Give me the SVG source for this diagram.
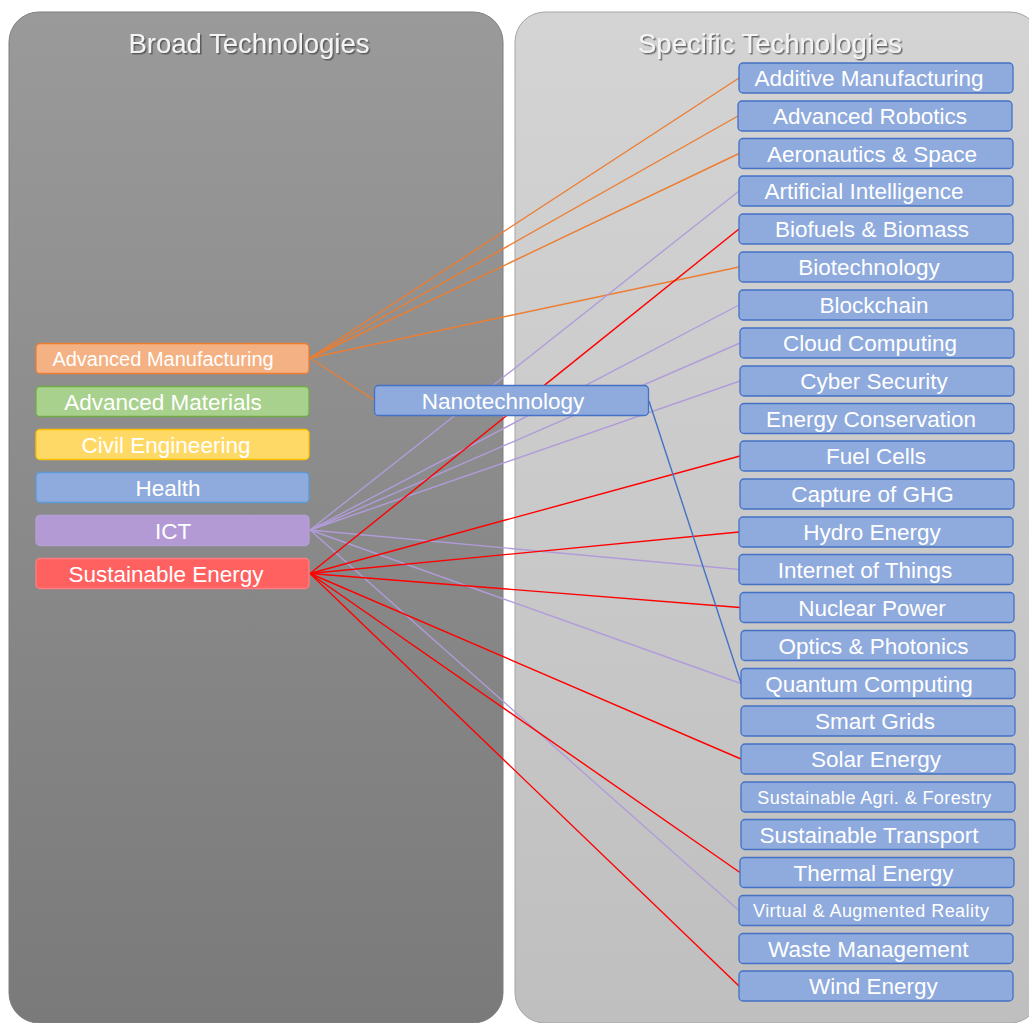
<svg xmlns="http://www.w3.org/2000/svg" width="1029" height="1023" viewBox="0 0 1029 1023">
<defs>
<linearGradient id="gL" x1="0" y1="0" x2="0" y2="1"><stop offset="0" stop-color="#9a9a9a"/><stop offset="1" stop-color="#7a7a7a"/></linearGradient>
<linearGradient id="gR" x1="0" y1="0" x2="0" y2="1"><stop offset="0" stop-color="#d4d4d4"/><stop offset="1" stop-color="#bfbfbf"/></linearGradient>
<filter id="sh" x="-10%" y="-30%" width="120%" height="160%"><feDropShadow dx="1.5" dy="1.5" stdDeviation="0.6" flood-color="#404040" flood-opacity="0.7"/></filter>
<style>
text{font-family:"Liberation Sans",Arial,sans-serif;fill:#ffffff;text-anchor:middle}
.title{font-size:27.5px;fill:#f4f4f4}
.t{font-size:22.5px}
.s{font-size:18px}
.spec rect{fill:#8faadc;stroke:#4472c4;stroke-width:1.3}
.broad rect{stroke-width:1.3}
#conn line{stroke-width:1.4;fill:none}
.o{stroke:#ed7d31}
.p{stroke:#b19cd9}
.r{stroke:#ff0000}
.b{stroke:#4472c4}
</style>
</defs>
<rect width="1029" height="1023" fill="#ffffff"/>
<g id="panel-broad">
<rect x="9" y="12" width="494" height="1011" rx="30" fill="url(#gL)" stroke="#7f7f7f" stroke-width="1"/>
<text class="title" x="249" y="53" filter="url(#sh)">Broad Technologies</text>
</g>
<g id="panel-specific">
<rect x="515" y="12" width="525" height="1011" rx="30" fill="url(#gR)" stroke="#a6a6a6" stroke-width="1"/>
<text class="title" x="770" y="53" filter="url(#sh)">Specific Technologies</text>
</g>
<g id="conn">
<line class="o" x1="310" y1="358" x2="739" y2="78"/>
<line class="o" x1="310" y1="358" x2="738" y2="116"/>
<line class="o" x1="310" y1="358" x2="739" y2="153.5"/>
<line class="o" x1="310" y1="358" x2="739" y2="267"/>
<line class="o" x1="310" y1="358" x2="374" y2="400"/>
<line class="p" x1="310" y1="530" x2="739" y2="191"/>
<line class="p" x1="310" y1="530" x2="739" y2="305"/>
<line class="p" x1="310" y1="530" x2="740" y2="343"/>
<line class="p" x1="310" y1="530" x2="740" y2="381"/>
<line class="p" x1="310" y1="530" x2="739" y2="569.5"/>
<line class="p" x1="310" y1="530" x2="741" y2="683.5"/>
<line class="p" x1="310" y1="530" x2="739" y2="910.5"/>
<line class="r" x1="310" y1="573.5" x2="739" y2="229"/>
<line class="r" x1="310" y1="573.5" x2="740" y2="456"/>
<line class="r" x1="310" y1="573.5" x2="739" y2="532"/>
<line class="r" x1="310" y1="573.5" x2="740" y2="607.5"/>
<line class="r" x1="310" y1="573.5" x2="741" y2="759"/>
<line class="r" x1="310" y1="573.5" x2="740" y2="872.5"/>
<line class="r" x1="310" y1="573.5" x2="739" y2="986"/>
<line class="b" x1="649" y1="401" x2="741" y2="683"/>
</g>
<g class="broad">
<g id="n-adv-manufacturing"><rect x="36" y="343.5" width="273" height="30" rx="4" fill="#f4b183" stroke="#ed7d31"/><text x="163" y="365.5" style="font-size:20px">Advanced Manufacturing</text></g>
<g id="n-adv-materials"><rect x="36" y="386.5" width="273" height="30" rx="4" fill="#a9d18e" stroke="#70ad47"/><text class="t" x="163" y="409.5">Advanced Materials</text></g>
<g id="n-civil"><rect x="36" y="429.5" width="273" height="30" rx="4" fill="#ffd966" stroke="#ffc000"/><text class="t" x="166" y="452.5">Civil Engineering</text></g>
<g id="n-health"><rect x="36" y="472.5" width="273" height="30" rx="4" fill="#8faadc" stroke="#5b9bd5"/><text class="t" x="168" y="495.5">Health</text></g>
<g id="n-ict"><rect x="36" y="515.5" width="273" height="30" rx="4" fill="#b39ad4" stroke="#b4a0d4"/><text class="t" x="173" y="538.5">ICT</text></g>
<g id="n-sust-energy"><rect x="36" y="558.5" width="273" height="30" rx="4" fill="#ff6161" stroke="#ff7c80"/><text class="t" x="166" y="581.5">Sustainable Energy</text></g>
</g>
<g class="spec">
<g id="n-nanotechnology"><rect x="374.5" y="385.5" width="274" height="30" rx="4"/><text class="t" x="503" y="408.5">Nanotechnology</text></g>
<g id="n-additive"><rect x="739" y="63" width="274" height="30" rx="4"/><text class="t" x="869" y="86">Additive Manufacturing</text></g>
<g id="n-robotics"><rect x="738" y="101" width="274" height="30" rx="4"/><text class="t" x="870" y="124">Advanced Robotics</text></g>
<g id="n-aero"><rect x="739" y="138.5" width="274" height="30" rx="4"/><text class="t" x="872" y="161.5">Aeronautics &amp; Space</text></g>
<g id="n-ai"><rect x="739" y="176" width="274" height="30" rx="4"/><text class="t" x="864" y="199">Artificial Intelligence</text></g>
<g id="n-biofuels"><rect x="739" y="214" width="274" height="30" rx="4"/><text class="t" x="872" y="237">Biofuels &amp; Biomass</text></g>
<g id="n-biotech"><rect x="739" y="252" width="274" height="30" rx="4"/><text class="t" x="869" y="275">Biotechnology</text></g>
<g id="n-blockchain"><rect x="739" y="290" width="274" height="30" rx="4"/><text class="t" x="874" y="313">Blockchain</text></g>
<g id="n-cloud"><rect x="740" y="328" width="274" height="30" rx="4"/><text class="t" x="870" y="351">Cloud Computing</text></g>
<g id="n-cyber"><rect x="740" y="366" width="274" height="30" rx="4"/><text class="t" x="874" y="389">Cyber Security</text></g>
<g id="n-energy-cons"><rect x="740" y="403.5" width="274" height="30" rx="4"/><text class="t" x="871" y="426.5">Energy Conservation</text></g>
<g id="n-fuel-cells"><rect x="740" y="441" width="274" height="30" rx="4"/><text class="t" x="876" y="464">Fuel Cells</text></g>
<g id="n-ghg"><rect x="740" y="479" width="274" height="30" rx="4"/><text class="t" x="872.5" y="502">Capture of GHG</text></g>
<g id="n-hydro"><rect x="739" y="517" width="274" height="30" rx="4"/><text class="t" x="872" y="540">Hydro Energy</text></g>
<g id="n-iot"><rect x="739" y="554.5" width="274" height="30" rx="4"/><text class="t" x="865" y="577.5">Internet of Things</text></g>
<g id="n-nuclear"><rect x="740" y="592.5" width="274" height="30" rx="4"/><text class="t" x="872" y="615.5">Nuclear Power</text></g>
<g id="n-optics"><rect x="741" y="630.5" width="274" height="30" rx="4"/><text class="t" x="873.5" y="653.5">Optics &amp; Photonics</text></g>
<g id="n-quantum"><rect x="741" y="668.5" width="274" height="30" rx="4"/><text class="t" x="869" y="691.5">Quantum Computing</text></g>
<g id="n-smart-grids"><rect x="741" y="706" width="274" height="30" rx="4"/><text class="t" x="875" y="729">Smart Grids</text></g>
<g id="n-solar"><rect x="741" y="744" width="274" height="30" rx="4"/><text class="t" x="876" y="767">Solar Energy</text></g>
<g id="n-agri"><rect x="741" y="782" width="274" height="30" rx="4"/><text class="s" x="874.3" y="803.5" textLength="234" lengthAdjust="spacing">Sustainable Agri. &amp; Forestry</text></g>
<g id="n-transport"><rect x="741" y="819.5" width="274" height="30" rx="4"/><text class="t" x="869" y="842.5">Sustainable Transport</text></g>
<g id="n-thermal"><rect x="740" y="857.5" width="274" height="30" rx="4"/><text class="t" x="873.5" y="880.5">Thermal Energy</text></g>
<g id="n-vr"><rect x="739" y="895.5" width="274" height="30" rx="4"/><text class="s" x="871" y="917" textLength="236" lengthAdjust="spacing">Virtual &amp; Augmented Reality</text></g>
<g id="n-waste"><rect x="739" y="933.5" width="274" height="30" rx="4"/><text class="t" x="868.3" y="956.5">Waste Management</text></g>
<g id="n-wind"><rect x="739" y="971" width="274" height="30" rx="4"/><text class="t" x="873.3" y="994">Wind Energy</text></g>
</g>
</svg>
